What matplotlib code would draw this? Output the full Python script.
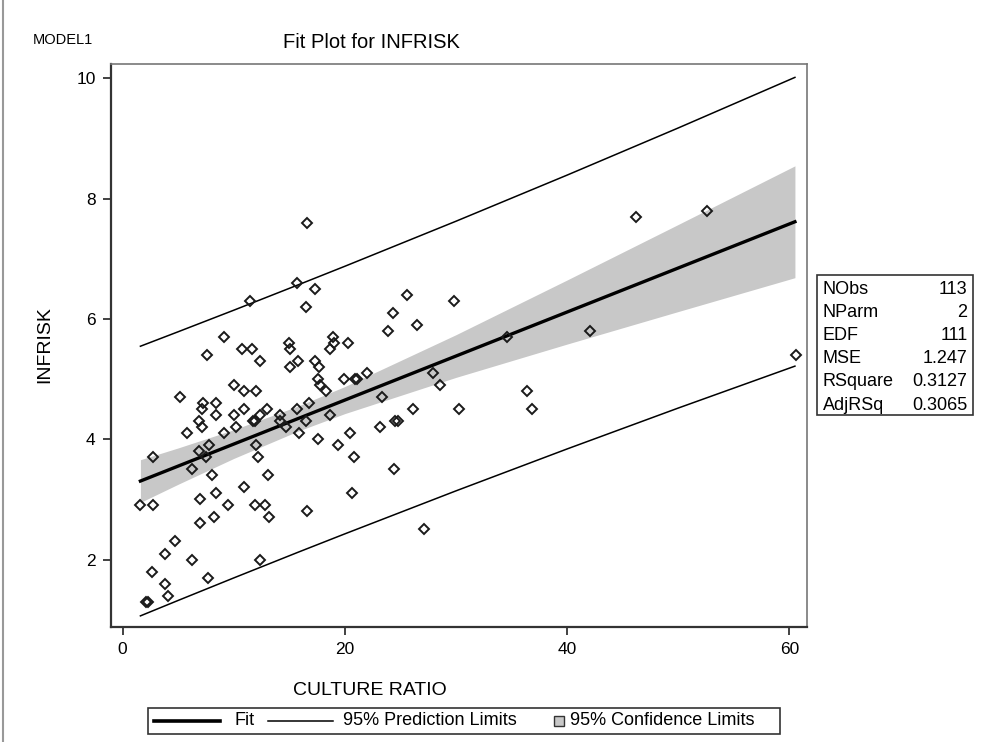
import matplotlib.pyplot as plt
from matplotlib.lines import Line2D
from matplotlib.patches import Rectangle

plt.rcParams['font.family'] = ['Liberation Sans', 'DejaVu Sans']

# observations: culture ratio vs infection risk
culture = [16.6, 46.2, 52.6, 42.1, 60.6, 15.7, 11.5, 17.3, 16.5, 9.1,
           18.9, 7.6, 10.7, 11.6, 12.4, 15.0, 15.1, 15.1, 15.8, 19.0,
           18.7, 20.3, 17.3, 17.7, 17.6, 17.8, 18.3, 19.9, 10.0, 10.9,
           12.0, 5.2, 7.2, 7.1, 8.4, 8.4, 6.9, 7.1, 5.8, 9.1,
           10.0, 10.9, 10.2, 11.7, 11.9, 12.4, 13.0, 14.2, 14.2, 14.7,
           15.7, 16.8, 16.5, 15.9, 17.6, 18.7, 19.4, 20.5, 2.7, 7.8,
           6.9, 7.5, 6.2, 8.0, 12.0, 12.2, 13.1, 10.9, 8.4, 7.0,
           1.6, 2.7, 9.5, 11.9, 12.8, 8.2, 7.0, 13.2, 16.6, 4.7,
           3.8, 6.2, 12.4, 2.6, 7.7, 3.8, 4.1, 2.1, 2.3, 20.8,
           20.6, 25.6, 29.8, 24.3, 26.5, 23.9, 34.6, 20.9, 21.1, 22.0,
           27.9, 28.6, 23.3, 26.1, 30.3, 36.4, 36.8, 23.2, 24.5, 24.8,
           24.4, 27.1]
infrisk = [7.6, 7.7, 7.8, 5.8, 5.4, 6.6, 6.3, 6.5, 6.2, 5.7,
           5.7, 5.4, 5.5, 5.5, 5.3, 5.6, 5.5, 5.2, 5.3, 5.6,
           5.5, 5.6, 5.3, 5.2, 5.0, 4.9, 4.8, 5.0, 4.9, 4.8,
           4.8, 4.7, 4.6, 4.5, 4.6, 4.4, 4.3, 4.2, 4.1, 4.1,
           4.4, 4.5, 4.2, 4.3, 4.3, 4.4, 4.5, 4.4, 4.3, 4.2,
           4.5, 4.6, 4.3, 4.1, 4.0, 4.4, 3.9, 4.1, 3.7, 3.9,
           3.8, 3.7, 3.5, 3.4, 3.9, 3.7, 3.4, 3.2, 3.1, 3.0,
           2.9, 2.9, 2.9, 2.9, 2.9, 2.7, 2.6, 2.7, 2.8, 2.3,
           2.1, 2.0, 2.0, 1.8, 1.7, 1.6, 1.4, 1.3, 1.3, 3.7,
           3.1, 6.4, 6.3, 6.1, 5.9, 5.8, 5.7, 5.0, 5.0, 5.1,
           5.1, 4.9, 4.7, 4.5, 4.5, 4.8, 4.5, 4.2, 4.3, 4.3,
           3.5, 2.5]

# fitted line with 95% confidence and prediction limits
grid_x = [1.6, 5, 10, 15.8, 20, 30, 40, 50, 60.5]
fit_y = [3.305, 3.554, 3.920, 4.345, 4.652, 5.384, 6.116, 6.848, 7.617]
cl_low = [2.950, 3.252, 3.681, 4.137, 4.427, 5.029, 5.583, 6.124, 6.687]
cl_high = [3.660, 3.856, 4.159, 4.553, 4.877, 5.739, 6.649, 7.572, 8.547]
pl_low = [1.063, 1.320, 1.694, 2.122, 2.427, 3.142, 3.839, 4.519, 5.216]
pl_high = [5.547, 5.788, 6.146, 6.568, 6.877, 7.626, 8.393, 9.177, 10.018]

stat_names = ['NObs', 'NParm', 'EDF', 'MSE', 'RSquare', 'AdjRSq']
stat_values = ['113', '2', '111', '1.247', '0.3127', '0.3065']

legend_labels = ['Fit', '95% Prediction Limits', '95% Confidence Limits']

W, H = 982, 742
band_color = '#c8c8c8'
ink = '#222222'

fig = plt.figure(figsize=(W / 100, H / 100), dpi=100)
ax = fig.add_axes([0.113, 0.1554, 0.7085, 0.7583])

ax.fill_between(grid_x, cl_low, cl_high, color=band_color, lw=0, zorder=1)
ax.plot(grid_x, pl_low, color='black', lw=1.1, zorder=2)
ax.plot(grid_x, pl_high, color='black', lw=1.1, zorder=2)
ax.plot(grid_x, fit_y, color='black', lw=2.4, zorder=3)
ax.plot(culture, infrisk, ls='none', marker='D', ms=5.5, mfc='none',
        mec='#1a1a1a', mew=1.4, zorder=4)

ax.set_xlim(-1.05, 61.56)
ax.set_ylim(0.883, 10.24)
ax.set_xticks([0, 20, 40, 60])
ax.set_yticks([2, 4, 6, 8, 10])
ax.tick_params(direction='out', length=6, width=1.3, labelsize=12.5,
               color='#333333', pad=5)
for side in ['left', 'bottom']:
    ax.spines[side].set_linewidth(1.6)
    ax.spines[side].set_color('#333333')
for side in ['top', 'right']:
    ax.spines[side].set_linewidth(1.2)
    ax.spines[side].set_color('#777777')

fig.text(0.378, 0.943, 'Fit Plot for INFRISK', ha='center', va='center', fontsize=14.5)
fig.text(0.033, 0.946, 'MODEL1', ha='left', va='center', fontsize=10.5)
fig.text(0.046, 0.535, 'INFRISK', ha='center', va='center', rotation=90, fontsize=14)
fig.text(0.377, 0.07, 'CULTURE RATIO', ha='center', va='center', fontsize=14)


def px(x, y):
    return x / W, 1 - y / H


# statistics box to the right of the plot
fig.add_artist(Rectangle(px(816.6, 415), 156 / W, 140 / H, transform=fig.transFigure,
                         fill=False, ec='#333333', lw=1.2))
for i, (name, val) in enumerate(zip(stat_names, stat_values)):
    row_y = 289.5 + i * 23.1
    fig.text(*px(822.5, row_y), name, ha='left', va='center', fontsize=13)
    fig.text(*px(967.5, row_y), val, ha='right', va='center', fontsize=13)

# legend strip below the axis label, laid out by hand
leg_y = 720.5
fig.add_artist(Rectangle(px(148, 733.5), 632 / W, 26 / H, transform=fig.transFigure,
                         fill=False, ec='#333333', lw=1.2))
fig.add_artist(Line2D(*zip(px(154, leg_y), px(220, leg_y)), transform=fig.transFigure,
                      color='black', lw=2.6))
fig.text(*px(234, leg_y), legend_labels[0], ha='left', va='center', fontsize=13)
fig.add_artist(Line2D(*zip(px(268, leg_y), px(333, leg_y)), transform=fig.transFigure,
                      color='black', lw=1.1))
fig.text(*px(343, leg_y), legend_labels[1], ha='left', va='center', fontsize=13)
fig.add_artist(Rectangle(px(554, leg_y + 5), 10 / W, 10 / H, transform=fig.transFigure,
                         fc=band_color, ec='#333333', lw=1))
fig.text(*px(570, leg_y), legend_labels[2], ha='left', va='center', fontsize=13)

fig.add_artist(Line2D([0.003, 0.003], [0, 1], transform=fig.transFigure,
                      color='#999999', lw=1.5))

fig.savefig('out.png', dpi=100)
